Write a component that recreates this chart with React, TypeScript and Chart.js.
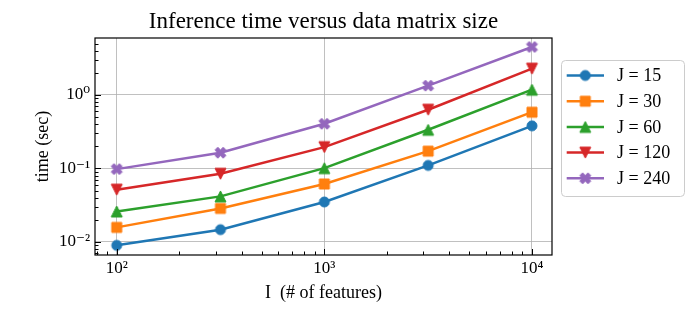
import React, { useEffect, useRef } from 'react';
import { Chart, registerables } from 'chart.js';

Chart.register(...registerables);

// ---- data ----
const featureCounts = [100, 316, 1000, 3162, 10000];
const seriesLabels = ['J = 15', 'J = 30', 'J = 60', 'J = 120', 'J = 240'];
const timesJ15 = [0.009, 0.0147, 0.035, 0.11, 0.38];
const timesJ30 = [0.0158, 0.0286, 0.0615, 0.172, 0.583];
const timesJ60 = [0.026, 0.0417, 0.101, 0.336, 1.18];
const timesJ120 = [0.0515, 0.0847, 0.195, 0.63, 2.28];
const timesJ240 = [0.098, 0.164, 0.406, 1.34, 4.5];
const xTickValues = [100, 1000, 10000];
const xTickLabels = ['10²', '10³', '10⁴'];
const yTickValues = [0.01, 0.1, 1];
const yTickLabels = ['10⁻²', '10⁻¹', '10⁰'];
const chartTitle = 'Inference time versus data matrix size';
const xTitle = 'I  (# of features)';
const yTitle = 'time (sec)';

const seriesValues = [timesJ15, timesJ30, timesJ60, timesJ120, timesJ240];
const colors = ['#1f77b4', '#ff7f0e', '#2ca02c', '#d62728', '#9467bd'];
const markerKinds = ['circle', 'square', 'tri-up', 'tri-down', 'x'];

const X_MIN = 78.6;
const X_MAX = 12486;
const Y_MIN = 0.00665;
const Y_MAX = 5.96;
const FONT = '"Liberation Serif", "DejaVu Serif", serif';

function makeMarker(kind: string, color: string, size: number): HTMLCanvasElement {
  const dim = Math.ceil(size + 4);
  const c = document.createElement('canvas');
  c.width = dim;
  c.height = dim;
  const ctx = c.getContext('2d')!;
  const h = size / 2;
  const cx = dim / 2;
  const cy = dim / 2;
  let pts: number[][] = [];
  if (kind === 'square') pts = [[-1, -1], [1, -1], [1, 1], [-1, 1]];
  else if (kind === 'tri-up') pts = [[0, -1], [-1, 1], [1, 1]];
  else if (kind === 'tri-down') pts = [[0, 1], [-1, -1], [1, -1]];
  else if (kind === 'x')
    pts = [[-1, -2], [0, -1], [1, -2], [2, -1], [1, 0], [2, 1], [1, 2], [0, 1], [-1, 2], [-2, 1], [-1, 0], [-2, -1]].map(
      ([a, b]) => [a / 2, b / 2]
    );
  ctx.beginPath();
  if (kind === 'circle') {
    ctx.arc(cx, cy, h, 0, Math.PI * 2);
  } else {
    pts.forEach(([a, b], i) => {
      const px = cx + a * h;
      const py = cy + b * h;
      if (i === 0) ctx.moveTo(px, py);
      else ctx.lineTo(px, py);
    });
    ctx.closePath();
  }
  ctx.fillStyle = color;
  ctx.fill();
  ctx.strokeStyle = color;
  ctx.lineWidth = 1;
  ctx.lineJoin = 'miter';
  ctx.stroke();
  return c;
}

const markerSizes: Record<string, number> = { circle: 10, square: 10, 'tri-up': 11, 'tri-down': 11, x: 11 };

function minorValues(min: number, max: number, majors: number[]) {
  const out: number[] = [];
  for (let e = -4; e <= 6; e++) {
    for (let m = 1; m <= 9; m++) {
      const v = m * Math.pow(10, e);
      if (v >= min && v <= max && !majors.some((mj) => Math.abs(mj - v) / v < 1e-9)) out.push(v);
    }
  }
  return out;
}

export default function App() {
  const canvasRef = useRef<HTMLCanvasElement | null>(null);

  useEffect(() => {
    document.body.style.margin = '0';
    const canvas = canvasRef.current;
    if (!canvas) return;
    const markers = markerKinds.map((k, i) => makeMarker(k, colors[i], markerSizes[k]));

    const decor = {
      id: 'decor',
      afterDraw(chart: any) {
        const { ctx, chartArea: a, scales } = chart;
        const xs = scales.x;
        const ys = scales.y;
        ctx.save();
        // ticks (inward, left & bottom)
        ctx.strokeStyle = '#000';
        ctx.lineWidth = 1;
        const drawX = (v: number, len: number) => {
          const px = Math.round(xs.getPixelForValue(v)) + 0.5;
          ctx.beginPath();
          ctx.moveTo(px, a.bottom);
          ctx.lineTo(px, a.bottom - len);
          ctx.stroke();
        };
        const drawY = (v: number, len: number) => {
          const py = Math.round(ys.getPixelForValue(v)) + 0.5;
          ctx.beginPath();
          ctx.moveTo(a.left, py);
          ctx.lineTo(a.left + len, py);
          ctx.stroke();
        };
        xTickValues.forEach((v) => drawX(v, 6));
        minorValues(X_MIN, X_MAX, xTickValues).forEach((v) => drawX(v, 3.5));
        yTickValues.forEach((v) => drawY(v, 6));
        minorValues(Y_MIN, Y_MAX, yTickValues).forEach((v) => drawY(v, 3.5));
        // frame
        ctx.lineWidth = 1.2;
        ctx.strokeStyle = '#000';
        ctx.strokeRect(a.left, a.top, a.right - a.left, a.bottom - a.top);
        // title
        ctx.fillStyle = '#000';
        ctx.font = `23px ${FONT}`;
        ctx.textAlign = 'center';
        ctx.textBaseline = 'alphabetic';
        ctx.fillText(chartTitle, (a.left + a.right) / 2, 28);
        // legend
        const lx = 561, ly = 60, lw = 123, lh = 136;
        ctx.beginPath();
        ctx.roundRect(lx + 0.5, ly + 0.5, lw, lh, 4);
        ctx.fillStyle = 'rgba(255,255,255,0.8)';
        ctx.fill();
        ctx.strokeStyle = '#cccccc';
        ctx.lineWidth = 1;
        ctx.stroke();
        ctx.font = `18px ${FONT}`;
        ctx.textAlign = 'left';
        ctx.textBaseline = 'middle';
        seriesLabels.forEach((lab, i) => {
          const yy = 75.5 + i * 25.7;
          ctx.beginPath();
          ctx.moveTo(566.7, yy);
          ctx.lineTo(604, yy);
          ctx.strokeStyle = colors[i];
          ctx.lineWidth = 2.5;
          ctx.stroke();
          const m = markers[i];
          ctx.drawImage(m, 585.3 - m.width / 2, yy - m.height / 2);
          ctx.fillStyle = '#000';
          ctx.fillText(lab, 617, yy + 1);
        });
        ctx.restore();
      },
    };

    const chart = new Chart(canvas, {
      type: 'line',
      data: {
        datasets: seriesValues.map((vals, i) => ({
          label: seriesLabels[i],
          data: featureCounts.map((x, j) => ({ x, y: vals[j] })),
          borderColor: colors[i],
          backgroundColor: colors[i],
          borderWidth: 2.5,
          pointStyle: markers[i] as any,
          pointRadius: 5,
          pointBorderWidth: 0,
          tension: 0,
          fill: false,
          order: 4 - i,
        })),
      },
      options: {
        animation: false,
        responsive: false,
        devicePixelRatio: 1,
        layout: { padding: { left: 0, top: 38, right: 140, bottom: 0 } },
        plugins: {
          legend: { display: false },
          title: { display: false },
          tooltip: { enabled: false },
        },
        scales: {
          x: {
            type: 'logarithmic',
            min: X_MIN,
            max: X_MAX,
            afterBuildTicks: (s: any) => {
              s.ticks = xTickValues.map((v) => ({ value: v }));
            },
            afterFit: (s: any) => {
              s.height = 64;
            },
            ticks: {
              callback: (_v: any, i: number) => xTickLabels[i],
              font: { family: FONT, size: 17 },
              color: '#000',
              padding: 3,
              maxRotation: 0,
              autoSkip: false,
            },
            grid: { color: '#b0b0b0', lineWidth: 0.8, drawTicks: false },
            border: { display: false },
            title: {
              display: true,
              text: xTitle,
              font: { family: FONT, size: 18 },
              color: '#000',
              padding: { top: 0, bottom: 15 },
            },
          },
          y: {
            type: 'logarithmic',
            min: Y_MIN,
            max: Y_MAX,
            afterBuildTicks: (s: any) => {
              s.ticks = yTickValues.map((v) => ({ value: v }));
            },
            afterFit: (s: any) => {
              s.width = 95;
            },
            ticks: {
              callback: (_v: any, i: number) => yTickLabels[i],
              font: { family: FONT, size: 17 },
              color: '#000',
              padding: 5,
              autoSkip: false,
            },
            grid: { color: '#b0b0b0', lineWidth: 0.8, drawTicks: false },
            border: { display: false },
            title: {
              display: true,
              text: yTitle,
              font: { family: FONT, size: 18 },
              color: '#000',
              padding: { top: 32, bottom: 0 },
            },
          },
        },
      },
      plugins: [decor],
    });
    return () => chart.destroy();
  }, []);

  return (
    <div style={{ position: 'absolute', left: 0, top: 0, width: 692, height: 319 }}>
      <canvas ref={canvasRef} width={692} height={319} style={{ display: 'block' }} />
    </div>
  );
}
